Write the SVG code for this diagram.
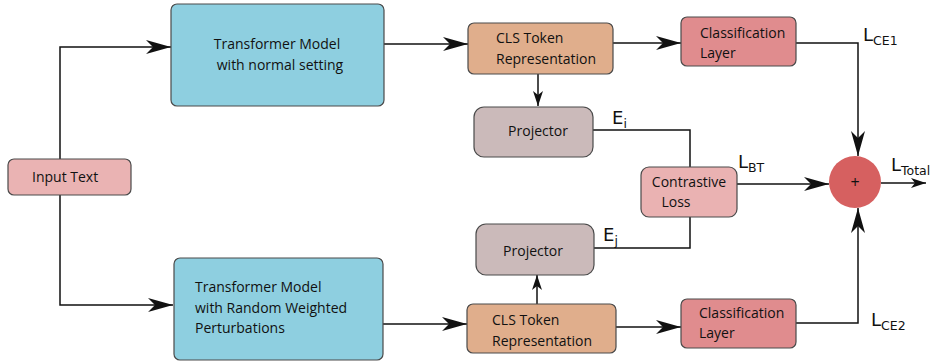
<svg xmlns="http://www.w3.org/2000/svg" width="934" height="362" viewBox="0 0 934 362">
<defs>
<style>
.box{stroke:#4a4a4a;stroke-width:1.2}
.t{font-family:"Open Sans","Liberation Sans",sans-serif;font-size:14px;fill:#111}
.L{font-family:"DejaVu Sans","Liberation Sans",sans-serif;font-size:18px;fill:#111}
.s{font-size:12.5px}
.c{fill:none;stroke:#111;stroke-width:1.5}
</style>
<marker id="big" markerUnits="userSpaceOnUse" markerWidth="26" markerHeight="16" refX="25" refY="8" orient="auto">
<path d="M0,1 L25,8 L0,15 L7,8 Z" fill="#111"/>
</marker>
<marker id="sm" markerUnits="userSpaceOnUse" markerWidth="16" markerHeight="12" refX="15" refY="6" orient="auto">
<path d="M0,1 L15,6 L0,11 L4,6 Z" fill="#111"/>
</marker>
</defs>
<g id="connectors">
<path class="c" d="M60,159 V47 H171" marker-end="url(#big)"/>
<path class="c" d="M60,195 V305 H173" marker-end="url(#big)"/>
<path class="c" d="M384,44 H468" marker-end="url(#big)"/>
<path class="c" d="M383,324 H467" marker-end="url(#big)"/>
<path class="c" d="M613,43 H681" marker-end="url(#big)"/>
<path class="c" d="M616,327 H681" marker-end="url(#big)"/>
<path class="c" d="M538,74 V106" marker-end="url(#sm)"/>
<path class="c" d="M537,304 V275" stroke="#555" marker-end="url(#sm)"/>
<path class="c" d="M593,130 H690 V167"/>
<path class="c" d="M690,217 V248 H594"/>
<path class="c" d="M737,184 H829" marker-end="url(#big)"/>
<path class="c" d="M796,43 H858 V156" marker-end="url(#big)"/>
<path class="c" d="M796,323 H858 V208" marker-end="url(#big)"/>
<path class="c" d="M881,183 H926" marker-end="url(#sm)"/>
</g>
<g id="input-text">
<rect class="box" x="8" y="159" width="123" height="36" rx="6" fill="#eab3b3"/>
<text class="t" x="32" y="182">Input Text</text>
</g>
<g id="transformer-normal">
<rect class="box" x="171" y="4" width="213" height="102" rx="6" fill="#8ecfe0"/>
<text class="t" x="277" y="49" text-anchor="middle">Transformer Model</text>
<text class="t" x="280" y="70" text-anchor="middle">with normal setting</text>
</g>
<g id="transformer-perturbed">
<rect class="box" x="174" y="258" width="209" height="102" rx="6" fill="#8ecfe0"/>
<text class="t" x="195" y="292">Transformer Model</text>
<text class="t" x="195" y="313">with Random Weighted</text>
<text class="t" x="195" y="333">Perturbations</text>
</g>
<g id="cls-top">
<rect class="box" x="468" y="23" width="145" height="51" rx="6" fill="#e0ae8c"/>
<text class="t" x="496" y="43">CLS Token</text>
<text class="t" x="496" y="64">Representation</text>
</g>
<g id="cls-bottom">
<rect class="box" x="467" y="304" width="149" height="49" rx="6" fill="#e0ae8c"/>
<text class="t" x="492" y="325">CLS Token</text>
<text class="t" x="492" y="346">Representation</text>
</g>
<g id="classification-top">
<rect class="box" x="681" y="17" width="115" height="49" rx="6" fill="#e08c8e"/>
<text class="t" x="700" y="38">Classification</text>
<text class="t" x="700" y="58">Layer</text>
</g>
<g id="classification-bottom">
<rect class="box" x="681" y="299" width="115" height="49" rx="6" fill="#e08c8e"/>
<text class="t" x="699" y="318">Classification</text>
<text class="t" x="699" y="338">Layer</text>
</g>
<g id="projector-top">
<rect class="box" x="474" y="107" width="119" height="50" rx="10" fill="#cbbaba"/>
<text class="t" x="538" y="136" text-anchor="middle">Projector</text>
</g>
<g id="projector-bottom">
<rect class="box" x="476" y="224" width="118" height="51" rx="10" fill="#cbbaba"/>
<text class="t" x="533" y="256" text-anchor="middle">Projector</text>
</g>
<g id="contrastive-loss">
<rect class="box" x="641" y="167" width="96" height="50" rx="8" fill="#eab2b2"/>
<text class="t" x="689" y="187" text-anchor="middle">Contrastive</text>
<text class="t" x="676" y="207" text-anchor="middle">Loss</text>
</g>
<g id="sum">
<circle cx="855" cy="182" r="26" fill="#d66060"/>
<text class="t" x="855" y="188" text-anchor="middle" style="font-size:16px">+</text>
</g>
<g id="labels">
<text class="L" x="863" y="41">L<tspan class="s" dy="4">CE1</tspan></text>
<text class="L" x="612" y="124">E<tspan class="s" dy="4">i</tspan></text>
<text class="L" x="738" y="168">L<tspan class="s" dy="4">BT</tspan></text>
<text class="L" x="891" y="171">L<tspan class="s" dy="4">Total</tspan></text>
<text class="L" x="603" y="241">E<tspan class="s" dy="4">j</tspan></text>
<text class="L" x="871" y="326">L<tspan class="s" dy="4">CE2</tspan></text>
</g>
</svg>
